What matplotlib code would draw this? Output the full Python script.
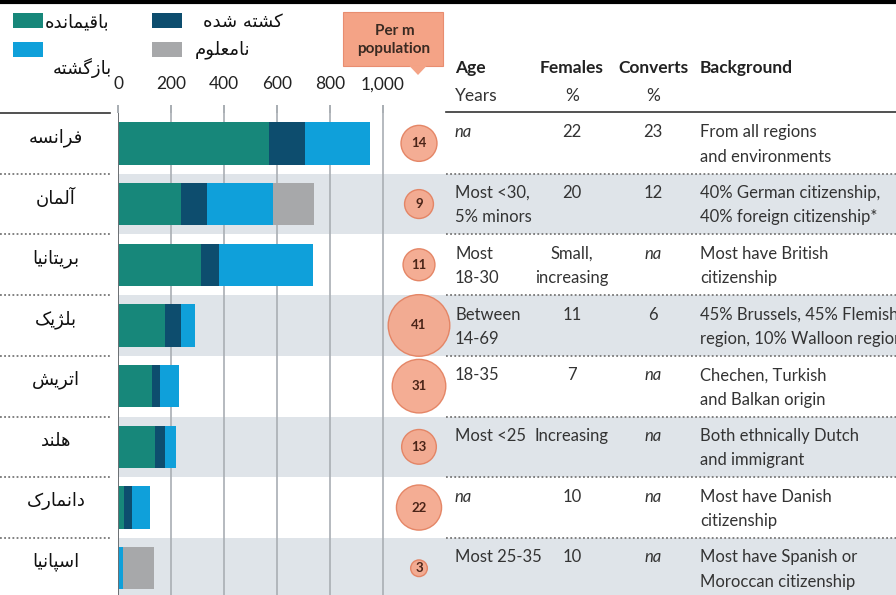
import matplotlib.pyplot as plt
from matplotlib.transforms import blended_transform_factory
from matplotlib.patches import Rectangle, Polygon

# data
countries = ['فرانسه', 'آلمان', 'بریتانیا', 'بلژیک', 'اتریش', 'هلند', 'دانمارک', 'اسپانیا']
remaining = [570, 238, 313, 177, 128, 140, 23, 0]
killed = [136, 98, 68, 60, 30, 38, 30, 0]
returned = [245, 249, 355, 53, 72, 42, 68, 20]
unknown = [0, 155, 0, 0, 0, 0, 0, 117]
per_million = [14, 9, 11, 41, 31, 13, 22, 3]
age = ['na', 'Most <30,\n5% minors', 'Most\n18-30', 'Between\n14-69', '18-35',
       'Most <25', 'na', 'Most 25-35']
females = ['22', '20', 'Small,\nincreasing', '11', '7', 'Increasing', '10', '10']
converts = ['23', '12', 'na', '6', 'na', 'na', 'na', 'na']
background = ['From all regions\nand environments',
              '40% German citizenship,\n40% foreign citizenship*',
              'Most have British\ncitizenship',
              '45% Brussels, 45% Flemish\nregion, 10% Walloon region',
              'Chechen, Turkish\nand Balkan origin',
              'Both ethnically Dutch\nand immigrant',
              'Most have Danish\ncitizenship',
              'Most have Spanish or\nMoroccan citizenship']
ticks = [0, 200, 400, 600, 800, 1000]
tick_labels = ['0', '200', '400', '600', '800', '1,000']
legend_labels = ['باقیمانده', 'کشته شده', 'بازگشته', 'نامعلوم']

colors = ['#17877a', '#0d4d6e', '#0fa0da', '#a7a8aa']
shade = '#dfe4e9'

# simple persian shaping (no bidi lib available): pick contextual forms, reverse
FORMS = {
    'ا': ('\uFE8D', '\uFE8E', None, None),
    'آ': ('\uFE81', '\uFE82', None, None),
    'ب': ('\uFE8F', '\uFE90', '\uFE91', '\uFE92'),
    'پ': ('\uFB56', '\uFB57', '\uFB58', '\uFB59'),
    'ت': ('\uFE95', '\uFE96', '\uFE97', '\uFE98'),
    'د': ('\uFEA9', '\uFEAA', None, None),
    'ر': ('\uFEAD', '\uFEAE', None, None),
    'ز': ('\uFEAF', '\uFEB0', None, None),
    'ژ': ('\uFB8A', '\uFB8B', None, None),
    'س': ('\uFEB1', '\uFEB2', '\uFEB3', '\uFEB4'),
    'ش': ('\uFEB5', '\uFEB6', '\uFEB7', '\uFEB8'),
    'ع': ('\uFEC9', '\uFECA', '\uFECB', '\uFECC'),
    'ف': ('\uFED1', '\uFED2', '\uFED3', '\uFED4'),
    'ق': ('\uFED5', '\uFED6', '\uFED7', '\uFED8'),
    '\u06A9': ('\uFB8E', '\uFB8F', '\uFB90', '\uFB91'),
    'گ': ('\uFB92', '\uFB93', '\uFB94', '\uFB95'),
    'ل': ('\uFEDD', '\uFEDE', '\uFEDF', '\uFEE0'),
    'م': ('\uFEE1', '\uFEE2', '\uFEE3', '\uFEE4'),
    'ن': ('\uFEE5', '\uFEE6', '\uFEE7', '\uFEE8'),
    'ه': ('\uFEE9', '\uFEEA', '\uFEEB', '\uFEEC'),
    'و': ('\uFEED', '\uFEEE', None, None),
    '\u06CC': ('\uFBFC', '\uFBFD', '\uFBFE', '\uFBFF'),
}


def persian(word):
    word = word.replace('\u064A', '\u06CC').replace('\u0643', '\u06A9')
    out = []
    for i, ch in enumerate(word):
        if ch not in FORMS:
            out.append(ch)
            continue
        prev = word[i - 1] if i > 0 else ''
        nxt = word[i + 1] if i + 1 < len(word) else ''
        jp = prev in FORMS and FORMS[prev][2] is not None
        jn = nxt in FORMS and FORMS[ch][2] is not None
        iso, fin, ini, med = FORMS[ch]
        if jp and jn:
            out.append(med)
        elif jp:
            out.append(fin)
        elif jn:
            out.append(ini)
        else:
            out.append(iso)
    return ''.join(reversed(out))


plt.rcParams['font.family'] = ['Lato', 'DejaVu Sans']

W, H = 896, 595
fig = plt.figure(figsize=(W / 100, H / 100), dpi=100)


def fx(px):
    return px / W


def fy(py):
    return 1 - py / H


ax = fig.add_axes([fx(118), 0, (W - 118) / W, 482 / H])
n = len(countries)
rows = list(range(n))
ax.set_xlim(0, (W - 118) / 0.265)
ax.set_ylim(-0.5 + 482 / 60.7, -0.5)
for s in ax.spines.values():
    s.set_visible(False)
ax.set_yticks([])

# shaded alternate rows
for i in rows:
    if i % 2 == 1:
        ax.axhspan(i - 0.5, i + 0.5, color=shade, zorder=0, lw=0)

# grid
ax.xaxis.tick_top()
ax.set_xticks(ticks, tick_labels)
ax.tick_params(axis='x', length=6, color='#9aa0a6', width=1.2, pad=9, labelsize=12.5,
               labelcolor='#222222')
ax.vlines(ticks[1:], -0.5, 8, color='#a9aeb4', lw=1.2, zorder=1)
ax.vlines([0], -0.5, 8, color='#6a6e72', lw=1.4, zorder=3)

# stacked bars
left = [0] * n
for vals, c in zip([remaining, killed, returned, unknown], colors):
    ax.barh(rows, vals, left=left, height=0.7, color=c, zorder=2)
    left = [a + b for a, b in zip(left, vals)]

# per million bubbles
bx = (419 - 118) / 0.265
ax.scatter([bx] * n, rows, s=[48 * v for v in per_million], color='#f4a68b',
           edgecolor='#e3805f', lw=1, alpha=0.92, zorder=4)
for i, v in zip(rows, per_million):
    ax.text(bx, i, str(v), ha='center', va='center', fontsize=9.5,
            fontweight='bold', color='#4a2418', zorder=5)

tr = blended_transform_factory(fig.transFigure, ax.transData)

# row labels and separators
for i, name in zip(rows, countries):
    ax.text(fx(56), i - 0.1, persian(name), transform=tr, ha='center', va='center',
            fontsize=13, family='DejaVu Sans', color='#111111')
for i in rows[:-1]:
    ax.plot([fx(0), fx(110)], [i + 0.5] * 2, transform=tr, clip_on=False,
            color='#777777', lw=1.3, ls=(0, (1, 1.3)))
    ax.plot([fx(446), fx(W)], [i + 0.5] * 2, transform=tr, clip_on=False,
            color='#777777', lw=1.3, ls=(0, (1, 1.3)))

# table
cols = [(455, 'left', age), (572, 'center', females), (653, 'center', converts),
        (700, 'left', background)]
for x, ha, cells in cols:
    for i, cell in enumerate(cells):
        for k, line in enumerate(cell.split('\n')):
            ax.text(fx(x), i - 0.18 + k * 0.4, line, transform=tr, ha=ha, va='center',
                    fontsize=12, color='#333333',
                    style='italic' if line == 'na' else 'normal')

# table header
hdr = [(455, 'left', 'Age', 'Years'), (572, 'center', 'Females', '%'),
       (653, 'center', 'Converts', '%'), (700, 'left', 'Background', '')]
for x, ha, top, sub in hdr:
    fig.text(fx(x), fy(68), top, ha=ha, va='center', fontsize=12.5,
             fontweight='bold', color='#222222')
    fig.text(fx(x), fy(96), sub, ha=ha, va='center', fontsize=12.5, color='#333333')

fig.add_artist(plt.Line2D([fx(0), fx(110)], [fy(113)] * 2, color='#333333', lw=1.2))
fig.add_artist(plt.Line2D([fx(446), fx(W)], [fy(112)] * 2, color='#333333', lw=1.2))
fig.add_artist(plt.Line2D([0, 1], [fy(2)] * 2, color='#000000', lw=3))

# per m population box
fig.add_artist(Rectangle((fx(343), fy(66)), 100 / W, 54 / H, transform=fig.transFigure,
                         facecolor='#f4a386', edgecolor='#e88d70', lw=0.8))
fig.add_artist(Polygon([(fx(409), fy(65.5)), (fx(427), fy(65.5)), (fx(418), fy(75))],
                       transform=fig.transFigure, facecolor='#f4a386', edgecolor='none'))
fig.text(fx(395), fy(31), 'Per m', ha='center', va='center', fontsize=11,
         fontweight='bold', color='#3a2a22')
fig.text(fx(394), fy(49), 'population', ha='center', va='center', fontsize=11,
         fontweight='bold', color='#3a2a22')

# legend
leg = [((13, 13), (77, 22), 0), ((152, 13), (243, 22), 1),
       ((13, 42), (82, 68), 2), ((152, 42), (222, 50), 3)]
for (sx, sy), (tx, ty), k in leg:
    fig.add_artist(Rectangle((fx(sx), fy(sy + 15)), 30 / W, 15 / H,
                             transform=fig.transFigure, facecolor=colors[k], lw=0))
    fig.text(fx(tx), fy(ty), persian(legend_labels[k]), ha='center', va='center',
             fontsize=13, family='DejaVu Sans', color='#111111')

fig.savefig('out.png', dpi=100)
